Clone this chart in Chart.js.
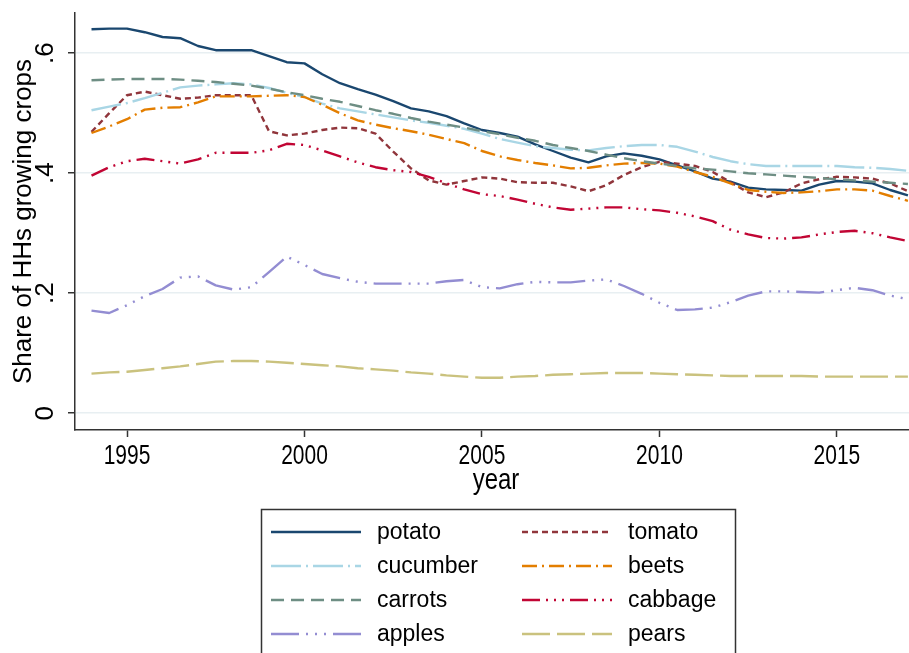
<!DOCTYPE html>
<html lang="en">
<head>
<meta charset="UTF-8">
<title>Share of HHs growing crops</title>
<script src="https://cdn.jsdelivr.net/npm/chart.js"></script>
<style>
  * { margin: 0; padding: 0; }
  body { background: #fff; }
</style>
</head>
<body>
<canvas id="myChart" width="909" height="653"></canvas>
<script>
// survey points, half-year steps
const years = [1994, 1994.5, 1995, 1995.5, 1996, 1996.5, 1997, 1997.5, 1998, 1998.5,
  1999, 1999.5, 2000, 2000.5, 2001, 2001.5, 2002, 2002.5, 2003, 2003.5,
  2004, 2004.5, 2005, 2005.5, 2006, 2006.5, 2007, 2007.5, 2008, 2008.5,
  2009, 2009.5, 2010, 2010.5, 2011, 2011.5, 2012, 2012.5, 2013, 2013.5,
  2014, 2014.5, 2015, 2015.5, 2016, 2016.5, 2017];

const potato = [0.640, 0.641, 0.641, 0.635, 0.627, 0.625, 0.612, 0.605, 0.605, 0.605,
  0.595, 0.585, 0.583, 0.565, 0.550, 0.540, 0.531, 0.520, 0.508, 0.503,
  0.495, 0.483, 0.472, 0.467, 0.461, 0.448, 0.437, 0.426, 0.418, 0.428,
  0.433, 0.429, 0.423, 0.413, 0.403, 0.391, 0.386, 0.376, 0.373, 0.372,
  0.371, 0.381, 0.387, 0.386, 0.383, 0.372, 0.363];
const tomato = [0.469, 0.500, 0.530, 0.536, 0.530, 0.524, 0.526, 0.530, 0.530, 0.530,
  0.470, 0.463, 0.466, 0.472, 0.476, 0.475, 0.466, 0.436, 0.408, 0.388,
  0.381, 0.387, 0.393, 0.391, 0.385, 0.384, 0.384, 0.378, 0.370, 0.380,
  0.397, 0.410, 0.419, 0.416, 0.412, 0.402, 0.385, 0.368, 0.360, 0.368,
  0.383, 0.390, 0.394, 0.393, 0.391, 0.383, 0.370];
const cucumber = [0.505, 0.511, 0.517, 0.525, 0.534, 0.543, 0.546, 0.548, 0.550, 0.548,
  0.542, 0.534, 0.527, 0.516, 0.508, 0.503, 0.498, 0.493, 0.488, 0.484,
  0.479, 0.474, 0.466, 0.457, 0.451, 0.445, 0.442, 0.439, 0.438, 0.442,
  0.445, 0.447, 0.447, 0.444, 0.436, 0.427, 0.420, 0.415, 0.412, 0.412,
  0.412, 0.412, 0.412, 0.410, 0.409, 0.407, 0.404];
const beets = [0.467, 0.478, 0.490, 0.506, 0.509, 0.510, 0.518, 0.528, 0.528, 0.528,
  0.529, 0.530, 0.527, 0.514, 0.500, 0.488, 0.481, 0.475, 0.470, 0.464,
  0.457, 0.450, 0.437, 0.428, 0.422, 0.417, 0.413, 0.408, 0.409, 0.413,
  0.416, 0.417, 0.416, 0.411, 0.402, 0.394, 0.383, 0.372, 0.369, 0.367,
  0.368, 0.370, 0.373, 0.373, 0.371, 0.362, 0.354];
const carrots = [0.555, 0.556, 0.557, 0.557, 0.557, 0.556, 0.554, 0.552, 0.549, 0.546,
  0.541, 0.535, 0.530, 0.524, 0.519, 0.512, 0.505, 0.499, 0.492, 0.486,
  0.481, 0.476, 0.470, 0.465, 0.459, 0.454, 0.447, 0.442, 0.437, 0.431,
  0.425, 0.420, 0.416, 0.412, 0.408, 0.406, 0.403, 0.400, 0.398, 0.396,
  0.394, 0.392, 0.390, 0.388, 0.386, 0.384, 0.382];
const cabbage = [0.396, 0.410, 0.420, 0.424, 0.420, 0.416, 0.423, 0.434, 0.434, 0.434,
  0.438, 0.449, 0.447, 0.438, 0.428, 0.418, 0.410, 0.405, 0.402, 0.394,
  0.383, 0.373, 0.365, 0.362, 0.356, 0.349, 0.343, 0.339, 0.341, 0.343,
  0.343, 0.340, 0.338, 0.334, 0.328, 0.320, 0.306, 0.298, 0.292, 0.291,
  0.293, 0.298, 0.302, 0.304, 0.300, 0.293, 0.287];
const apples = [0.171, 0.167, 0.180, 0.195, 0.207, 0.226, 0.228, 0.213, 0.206, 0.210,
  0.235, 0.261, 0.247, 0.232, 0.225, 0.219, 0.216, 0.216, 0.216, 0.216,
  0.220, 0.222, 0.210, 0.208, 0.215, 0.219, 0.218, 0.218, 0.221, 0.223,
  0.212, 0.199, 0.184, 0.172, 0.173, 0.176, 0.185, 0.196, 0.203, 0.203,
  0.202, 0.201, 0.205, 0.209, 0.205, 0.196, 0.190];
const pears = [0.066, 0.068, 0.069, 0.072, 0.075, 0.078, 0.082, 0.086, 0.087, 0.087,
  0.086, 0.084, 0.082, 0.080, 0.078, 0.075, 0.073, 0.071, 0.068, 0.066,
  0.063, 0.061, 0.059, 0.059, 0.061, 0.062, 0.064, 0.065, 0.066, 0.067,
  0.067, 0.067, 0.066, 0.065, 0.064, 0.063, 0.062, 0.062, 0.062, 0.062,
  0.062, 0.061, 0.061, 0.061, 0.061, 0.061, 0.061];

const xTicks = [1995, 2000, 2005, 2010, 2015];
const yTicks = [0, 0.2, 0.4, 0.6];
const yTickLabels = ['0', '.2', '.4', '.6'];

// legend order (row by row, two columns)
const series = [
  { label: 'potato',   values: potato,   color: '#1a476f', dash: [] },
  { label: 'tomato',   values: tomato,   color: '#90353b', dash: [6, 4] },
  { label: 'cucumber', values: cucumber, color: '#a9d6e5', dash: [30, 5, 2, 5] },
  { label: 'beets',    values: beets,    color: '#e37e00', dash: [15, 5, 2, 5] },
  { label: 'carrots',  values: carrots,  color: '#6e8e84', dash: [13, 7] },
  { label: 'cabbage',  values: cabbage,  color: '#c10534', dash: [18, 6, 2, 6, 2, 6, 2, 6] },
  { label: 'apples',   values: apples,   color: '#938dd2', dash: [28, 7, 2, 7, 2, 7, 2, 7] },
  { label: 'pears',    values: pears,    color: '#cac27e', dash: [28, 7] }
];

const sans = '"Liberation Sans", Arial, sans-serif';

const decor = {
  id: 'decor',
  afterDraw: (chart) => {
    const ctx = chart.ctx;
    const xs = chart.scales.x;
    const ys = chart.scales.y;
    ctx.save();
    ctx.fillStyle = '#000';
    ctx.textAlign = 'center';
    ctx.textBaseline = 'middle';

    // y tick labels standing on end, Stata style
    ctx.font = '26px ' + sans;
    yTicks.forEach((v, i) => {
      ctx.save();
      ctx.translate(46, ys.getPixelForValue(v));
      ctx.rotate(-Math.PI / 2);
      ctx.fillText(yTickLabels[i], 0, 0);
      ctx.restore();
    });

    // x tick labels, a bit taller than wide like the original
    ctx.font = '21px ' + sans;
    xTicks.forEach((v) => {
      ctx.save();
      ctx.translate(xs.getPixelForValue(v), 456);
      ctx.scale(1, 1.32);
      ctx.fillText(String(v), 0, 0);
      ctx.restore();
    });
    ctx.save();
    ctx.font = '24px ' + sans;
    ctx.translate((xs.left + xs.right) / 2 + 4, 481);
    ctx.scale(1, 1.2);
    ctx.fillText('year', 0, 0);
    ctx.restore();

    // legend box
    ctx.lineWidth = 1.5;
    ctx.strokeStyle = '#333';
    ctx.strokeRect(261.5, 509.5, 474, 200);
    ctx.font = '23px ' + sans;
    ctx.textAlign = 'left';
    chart.data.datasets.forEach((ds, i) => {
      const lx = i % 2 ? 522 : 271;
      const ly = 532 + Math.floor(i / 2) * 34;
      ctx.strokeStyle = ds.borderColor;
      ctx.lineWidth = ds.borderWidth;
      ctx.setLineDash(ds.borderDash);
      ctx.beginPath();
      ctx.moveTo(lx, ly);
      ctx.lineTo(lx + 90, ly);
      ctx.stroke();
      ctx.setLineDash([]);
      ctx.fillStyle = '#000';
      ctx.fillText(ds.label, lx + 106, ly + 1);
    });
    ctx.restore();
  }
};

const config = {
  type: 'line',
  data: {
    datasets: series.map((s, i) => ({
      label: s.label,
      data: years.map((x, j) => ({ x: x, y: s.values[j] })),
      borderColor: s.color,
      borderWidth: 2.4,
      borderDash: s.dash,
      borderJoinStyle: 'round',
      pointRadius: 0,
      fill: false,
      order: series.length - i
    }))
  },
  plugins: [decor],
  options: {
    responsive: false,
    animation: false,
    layout: { padding: { top: 13, right: 0, bottom: 153, left: 0 } },
    plugins: {
      legend: { display: false },
      tooltip: { enabled: false }
    },
    scales: {
      x: {
        type: 'linear',
        min: 1993.535,
        max: 2017.03,
        afterBuildTicks: (axis) => { axis.ticks = xTicks.map(v => ({ value: v })); },
        afterFit: (axis) => { axis.height = 70; },
        grid: { drawOnChartArea: false, tickLength: 7, tickColor: '#333', tickWidth: 1.5 },
        border: { color: '#333', width: 1.5 },
        ticks: { display: false }
      },
      y: {
        type: 'linear',
        min: -0.028,
        max: 0.667,
        afterBuildTicks: (axis) => { axis.ticks = yTicks.map(v => ({ value: v })); },
        afterFit: (axis) => { axis.width = 75; },
        grid: { color: '#e8eff2', lineWidth: 1.5, tickLength: 7, tickColor: '#333', tickWidth: 1.5 },
        border: { color: '#333', width: 1.5 },
        ticks: { display: false },
        title: {
          display: true,
          text: 'Share of HHs growing crops',
          color: '#000',
          padding: { top: 8, bottom: 0 },
          font: { family: sans, size: 26 }
        }
      }
    }
  }
};

const myChart = new Chart(document.getElementById('myChart'), config);
</script>
</body>
</html>
